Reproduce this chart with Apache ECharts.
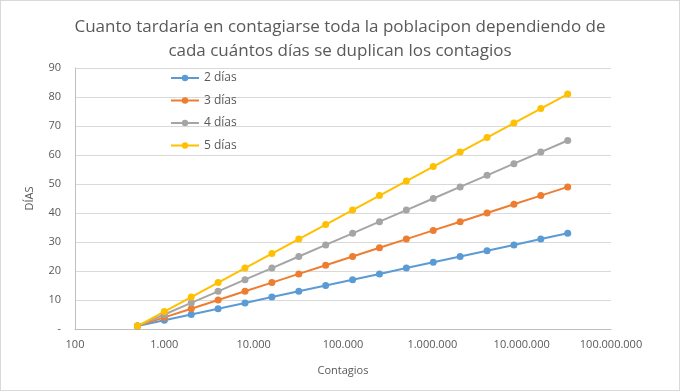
<!DOCTYPE html>
<html><head><meta charset="utf-8">
<script src="https://cdn.jsdelivr.net/npm/echarts@6/dist/echarts.min.js"></script>
<style>html,body{margin:0;padding:0;background:#fff}#c{width:680px;height:391px;box-sizing:border-box;border:1px solid #d9d9d9}</style>
</head><body><div id="c"></div>
<script>
const contagios = [500, 1000, 2000, 4000, 8000, 16000, 32000, 64000, 128000, 256000, 512000, 1024000, 2048000, 4096000, 8192000, 16384000, 32768000];
const dias2 = [1, 3, 5, 7, 9, 11, 13, 15, 17, 19, 21, 23, 25, 27, 29, 31, 33];
const dias3 = [1, 4, 7, 10, 13, 16, 19, 22, 25, 28, 31, 34, 37, 40, 43, 46, 49];
const dias4 = [1, 5, 9, 13, 17, 21, 25, 29, 33, 37, 41, 45, 49, 53, 57, 61, 65];
const dias5 = [1, 6, 11, 16, 21, 26, 31, 36, 41, 46, 51, 56, 61, 66, 71, 76, 81];
const seriesNames = ['2 días', '3 días', '4 días', '5 días'];
const seriesColors = ['#5b9bd5', '#ed7d31', '#a5a5a5', '#ffc000'];
const allData = [dias2, dias3, dias4, dias5];
const F = '"Open Sans", "Noto Sans", sans-serif';
const fmt = v => String(Math.round(v)).replace(/\B(?=(\d{3})+(?!\d))/g, '.');
const chart = echarts.init(document.getElementById('c'));
chart.setOption({
  animation: false,
  textStyle: {fontFamily: F},
  title: {
    text: 'Cuanto tardaría en contagiarse toda la poblacipon dependiendo de\ncada cuántos días se duplican los contagios',
    left: 'center', top: 9,
    textStyle: {fontFamily: F, fontSize: 17, fontWeight: 'normal', color: '#595959', lineHeight: 24}
  },
  legend: {
    orient: 'vertical', left: 164, top: 66, itemGap: 10.5,
    itemWidth: 28, itemHeight: 8,
    textStyle: {fontFamily: F, fontSize: 12, color: '#595959'},
    data: seriesNames
  },
  grid: {left: 74, right: 68, top: 67, bottom: 61},
  xAxis: {
    type: 'log', logBase: 10, min: 100, max: 100000000,
    name: 'Contagios', nameLocation: 'middle', nameGap: 36,
    nameTextStyle: {fontFamily: F, fontSize: 11, color: '#595959'},
    axisLine: {lineStyle: {color: '#bfbfbf'}},
    axisTick: {show: false},
    splitLine: {show: false},
    minorTick: {show: false},
    axisLabel: {formatter: fmt, fontFamily: F, fontSize: 11, color: '#595959', margin: 10}
  },
  yAxis: {
    type: 'value', min: 0, max: 90, interval: 10,
    name: 'DÍAS', nameLocation: 'middle', nameGap: 40, nameRotate: 90,
    nameTextStyle: {fontFamily: F, fontSize: 11, color: '#595959'},
    axisLine: {show: true, lineStyle: {color: '#bfbfbf'}},
    axisTick: {show: false},
    splitLine: {lineStyle: {color: '#d9d9d9'}},
    axisLabel: {formatter: v => v === 0 ? '-' : String(v), fontFamily: F, fontSize: 11, color: '#595959', margin: 14}
  },
  series: allData.map((d, i) => ({
    name: seriesNames[i], type: 'line',
    data: d.map((y, j) => [contagios[j], y]),
    symbol: 'circle', symbolSize: 7,
    lineStyle: {width: 2, color: seriesColors[i]},
    itemStyle: {color: seriesColors[i]}
  }))
});
</script></body></html>
